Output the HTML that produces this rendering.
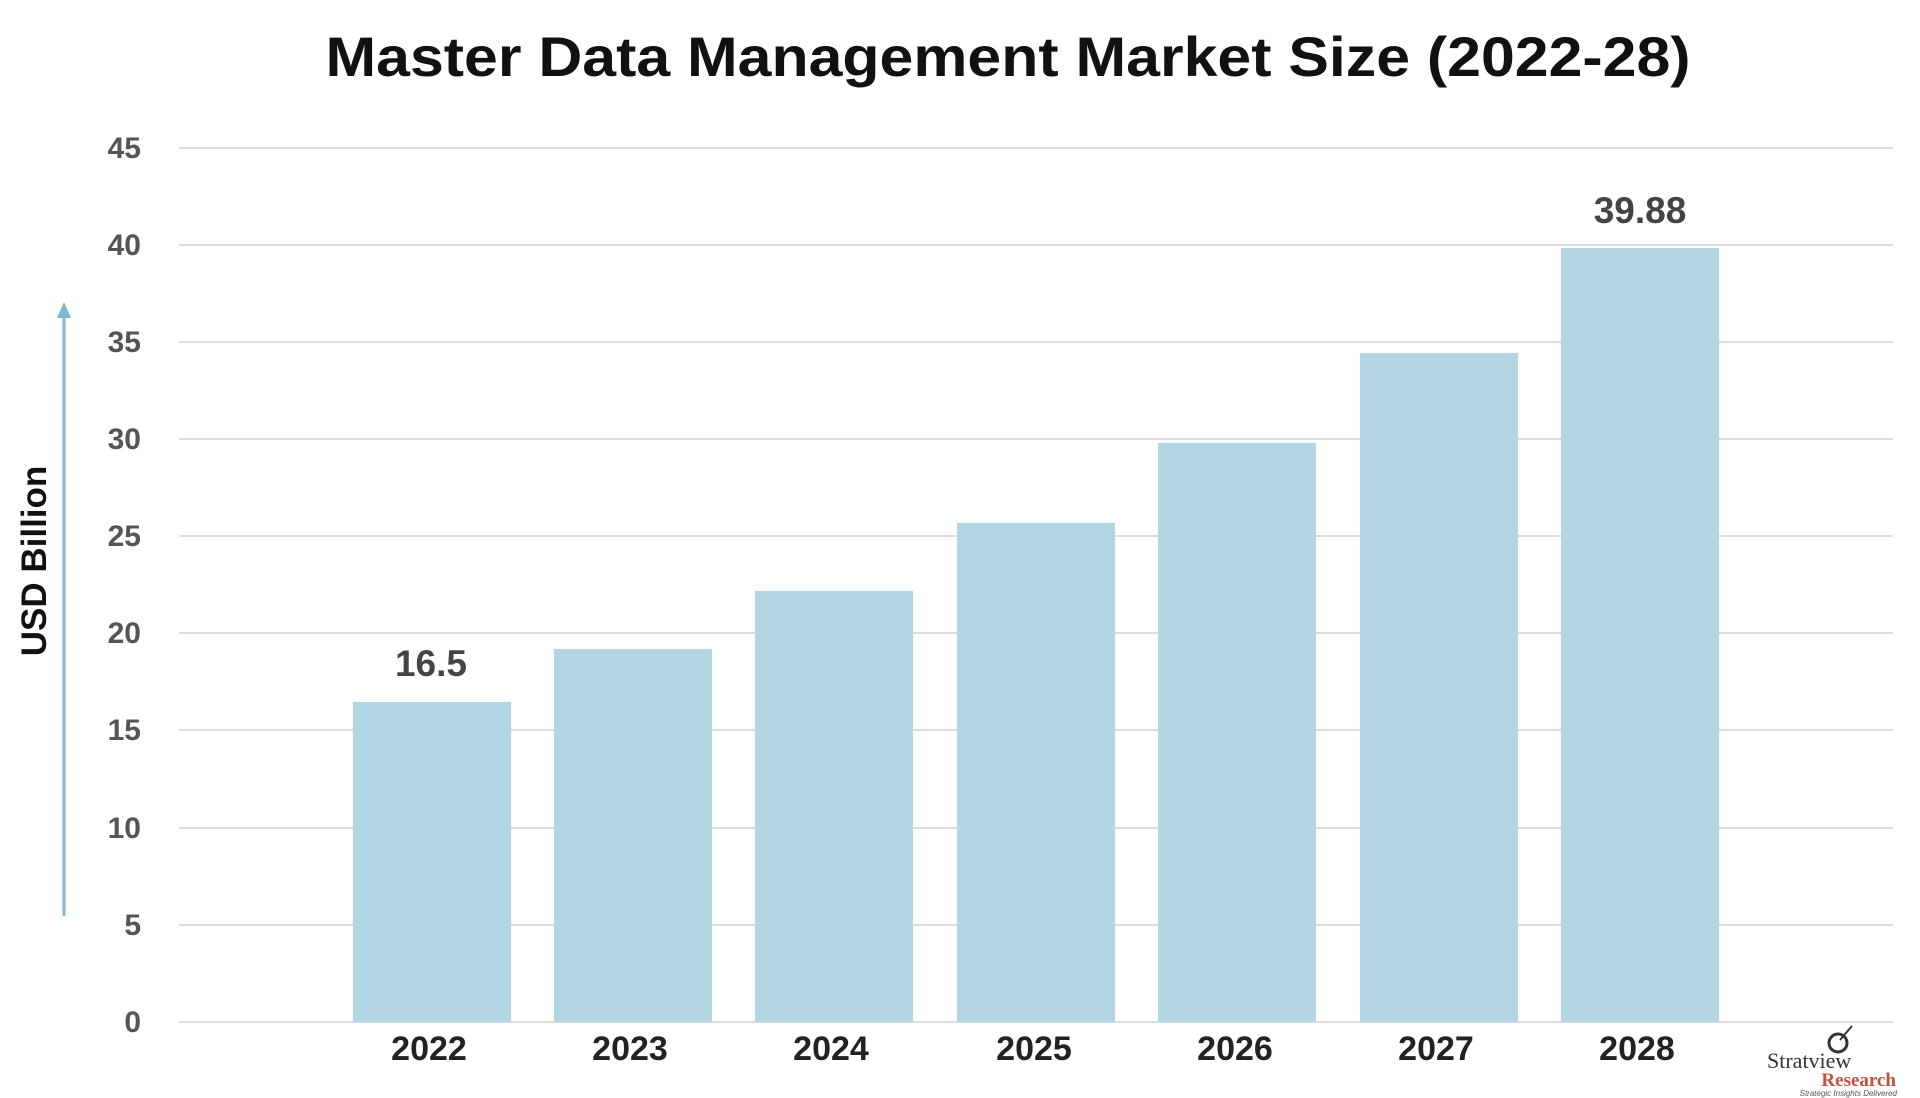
<!DOCTYPE html>
<html><head><meta charset="utf-8"><style>
body{margin:0;background:#fff;}
svg{display:block;font-family:"Liberation Sans",sans-serif;}
</style></head><body>
<svg width="1920" height="1098" viewBox="0 0 1920 1098">
<text x="1008" y="76" text-anchor="middle" font-size="56" font-weight="bold" fill="#111" textLength="1365" lengthAdjust="spacingAndGlyphs">Master Data Management Market Size (2022-28)</text>
<g stroke="#dcdcdc" stroke-width="2">
<line x1="179" x2="1893" y1="148" y2="148"/><line x1="179" x2="1893" y1="245" y2="245"/>
<line x1="179" x2="1893" y1="342" y2="342"/><line x1="179" x2="1893" y1="439" y2="439"/>
<line x1="179" x2="1893" y1="536" y2="536"/><line x1="179" x2="1893" y1="633" y2="633"/>
<line x1="179" x2="1893" y1="730" y2="730"/><line x1="179" x2="1893" y1="828" y2="828"/>
<line x1="179" x2="1893" y1="925" y2="925"/><line x1="179" x2="1893" y1="1022" y2="1022"/>
</g>
<g font-size="30" font-weight="bold" fill="#555" text-anchor="end">
<text x="141" y="158">45</text><text x="141" y="255">40</text><text x="141" y="352">35</text>
<text x="141" y="449">30</text><text x="141" y="546">25</text><text x="141" y="643">20</text>
<text x="141" y="740">15</text><text x="141" y="838">10</text><text x="141" y="935">5</text>
<text x="141" y="1032">0</text>
</g>
<g fill="#b4d6e4">
<rect x="353" y="702" width="158" height="320"/>
<rect x="554" y="649" width="158" height="373"/>
<rect x="755" y="591" width="158" height="431"/>
<rect x="957" y="523" width="158" height="499"/>
<rect x="1158" y="443" width="158" height="579"/>
<rect x="1360" y="353" width="158" height="669"/>
<rect x="1561" y="248" width="158" height="774"/>
</g>
<g font-size="34" font-weight="bold" fill="#222" text-anchor="middle">
<text x="429" y="1060">2022</text><text x="630" y="1060">2023</text><text x="831" y="1060">2024</text>
<text x="1034" y="1060">2025</text><text x="1235" y="1060">2026</text><text x="1436" y="1060">2027</text>
<text x="1637" y="1060">2028</text>
</g>
<g font-size="37" font-weight="bold" fill="#444" text-anchor="middle">
<text x="431" y="676">16.5</text><text x="1640" y="223">39.88</text>
</g>
<text transform="translate(46,561) rotate(-90)" text-anchor="middle" font-size="35" font-weight="bold" fill="#111">USD Billion</text>
<line x1="64" y1="916" x2="64" y2="312" stroke="#7fb8cc" stroke-width="3"/>
<polygon points="64,302 57,318 71,318" fill="#7fb8cc"/>
<g>
<circle cx="1838" cy="1043" r="9" fill="none" stroke="#333" stroke-width="3"/>
<line x1="1840" y1="1040" x2="1852" y2="1026" stroke="#333" stroke-width="2"/>
<text x="1767" y="1068" font-family="Liberation Serif,serif" font-size="22" fill="#333">Stratview</text>
<text x="1896" y="1086" text-anchor="end" font-family="Liberation Serif,serif" font-size="19" font-weight="bold" fill="#c0503a">Research</text>
<text x="1897" y="1096" text-anchor="end" font-size="8" font-style="italic" fill="#555">Strategic Insights Delivered</text>
</g>
</svg>
</body></html>
